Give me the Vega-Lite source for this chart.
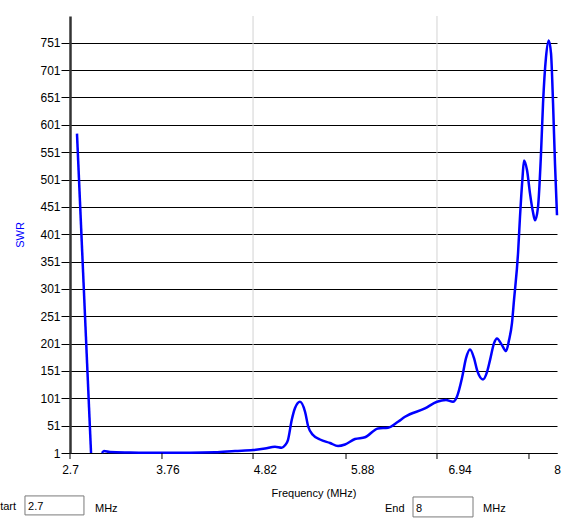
{
  "$schema": "https://vega.github.io/schema/vega-lite/v6.json",
  "width": 487,
  "height": 437,
  "autosize": {"type": "none"},
  "padding": {"left": 70, "top": 16, "right": 21, "bottom": 68},
  "background": "white",
  "config": {
    "view": {"stroke": null},
    "font": "Liberation Sans"
  },
  "datasets": {
    "swr": [
      {"f": 2.776, "swr": 585, "seg": 1},
      {"f": 2.929, "swr": 1, "seg": 1},
      {"f": 3.048, "swr": 1, "seg": 2},
      {"f": 3.07, "swr": 4.7, "seg": 2},
      {"f": 3.135, "swr": 2.8, "seg": 2},
      {"f": 3.353, "swr": 2, "seg": 2},
      {"f": 3.679, "swr": 1.4, "seg": 2},
      {"f": 4.006, "swr": 1.4, "seg": 2},
      {"f": 4.278, "swr": 2.3, "seg": 2},
      {"f": 4.496, "swr": 4.7, "seg": 2},
      {"f": 4.692, "swr": 6.5, "seg": 2},
      {"f": 4.822, "swr": 9.2, "seg": 2},
      {"f": 4.931, "swr": 12.5, "seg": 2},
      {"f": 5.004, "swr": 10.7, "seg": 2},
      {"f": 5.04, "swr": 15, "seg": 2},
      {"f": 5.072, "swr": 24.7, "seg": 2},
      {"f": 5.113, "swr": 61.3, "seg": 2},
      {"f": 5.149, "swr": 83.2, "seg": 2},
      {"f": 5.203, "swr": 94.7, "seg": 2},
      {"f": 5.258, "swr": 76.4, "seg": 2},
      {"f": 5.293, "swr": 49, "seg": 2},
      {"f": 5.345, "swr": 33.9, "seg": 2},
      {"f": 5.421, "swr": 25.7, "seg": 2},
      {"f": 5.53, "swr": 19.3, "seg": 2},
      {"f": 5.617, "swr": 13.8, "seg": 2},
      {"f": 5.693, "swr": 16.5, "seg": 2},
      {"f": 5.802, "swr": 26.6, "seg": 2},
      {"f": 5.91, "swr": 29.7, "seg": 2},
      {"f": 6.052, "swr": 46, "seg": 2},
      {"f": 6.161, "swr": 47.2, "seg": 2},
      {"f": 6.27, "swr": 58.2, "seg": 2},
      {"f": 6.346, "swr": 67.3, "seg": 2},
      {"f": 6.563, "swr": 82.6, "seg": 2},
      {"f": 6.694, "swr": 94.7, "seg": 2},
      {"f": 6.792, "swr": 97.8, "seg": 2},
      {"f": 6.868, "swr": 94.7, "seg": 2},
      {"f": 6.911, "swr": 103.8, "seg": 2},
      {"f": 6.966, "swr": 138, "seg": 2},
      {"f": 7.01, "swr": 174.5, "seg": 2},
      {"f": 7.053, "swr": 190.4, "seg": 2},
      {"f": 7.097, "swr": 174.5, "seg": 2},
      {"f": 7.13, "swr": 152.6, "seg": 2},
      {"f": 7.195, "swr": 135.6, "seg": 2},
      {"f": 7.238, "swr": 148.9, "seg": 2},
      {"f": 7.271, "swr": 170.8, "seg": 2},
      {"f": 7.315, "swr": 201.9, "seg": 2},
      {"f": 7.347, "swr": 210.5, "seg": 2},
      {"f": 7.401, "swr": 198.2, "seg": 2},
      {"f": 7.445, "swr": 187.3, "seg": 2},
      {"f": 7.478, "swr": 207.4, "seg": 2},
      {"f": 7.51, "swr": 238.4, "seg": 2},
      {"f": 7.532, "swr": 280.4, "seg": 2},
      {"f": 7.576, "swr": 366.2, "seg": 2},
      {"f": 7.597, "swr": 432, "seg": 2},
      {"f": 7.625, "swr": 505, "seg": 2},
      {"f": 7.641, "swr": 536, "seg": 2},
      {"f": 7.674, "swr": 517.8, "seg": 2},
      {"f": 7.706, "swr": 475.8, "seg": 2},
      {"f": 7.739, "swr": 441, "seg": 2},
      {"f": 7.761, "swr": 426.5, "seg": 2},
      {"f": 7.793, "swr": 450.2, "seg": 2},
      {"f": 7.826, "swr": 548.9, "seg": 2},
      {"f": 7.848, "swr": 640.2, "seg": 2},
      {"f": 7.88, "swr": 724.2, "seg": 2},
      {"f": 7.91, "swr": 755.2, "seg": 2},
      {"f": 7.935, "swr": 731.5, "seg": 2},
      {"f": 7.957, "swr": 640.2, "seg": 2},
      {"f": 7.978, "swr": 530.6, "seg": 2},
      {"f": 8.0, "swr": 435.6, "seg": 2}
    ],
    "vgrid": [{"g": 4.692}, {"g": 6.694}],
    "xticks": [{"t": 2.7}, {"t": 3.701}, {"t": 4.692}, {"t": 5.704}, {"t": 6.694}, {"t": 7.695}],
    "one": [{}]
  },
  "layer": [
    {
      "data": {"name": "vgrid"},
      "mark": {"type": "rule", "color": "#d3d3d3", "strokeWidth": 1},
      "encoding": {
        "x": {"field": "g", "type": "quantitative", "scale": {"domain": [2.7, 8]}}
      }
    },
    {
      "data": {"name": "swr"},
      "mark": {"type": "line", "color": "#0000ff", "strokeWidth": 2.5, "interpolate": "monotone", "clip": false},
      "encoding": {
        "x": {
          "field": "f", "type": "quantitative",
          "scale": {"domain": [2.7, 8], "nice": false, "zero": false},
          "axis": {
            "title": "Frequency (MHz)",
            "values": [2.7, 3.76, 4.82, 5.88, 6.94, 8],
            "tickCount": 20,
            "labelExpr": "datum.value == 8 ? '8' : format(datum.value, '.2~f')",
            "grid": false,
            "ticks": false,
            "tickSize": 0,
            "labelPadding": 11,
            "labelFontSize": 12,
            "labelColor": "#000000",
            "labelFont": "Liberation Sans",
            "labelOverlap": false,
            "labelFlush": false,
            "labelBound": false,
            "domainColor": "#000000",
            "domainWidth": 1,
            "titleFontSize": 11,
            "titleFontWeight": "normal",
            "titleFont": "Liberation Sans",
            "titleColor": "#000000",
            "titlePadding": 12
          }
        },
        "y": {
          "field": "swr", "type": "quantitative",
          "scale": {"domain": [1, 800], "nice": false, "zero": false},
          "axis": {
            "title": "SWR",
            "values": [1, 51, 101, 151, 201, 251, 301, 351, 401, 451, 501, 551, 601, 651, 701, 751],
            "tickCount": 40,
            "grid": true,
            "gridColor": "#000000",
            "gridWidth": 1,
            "gridOpacity": 1,
            "tickColor": "#000000",
            "tickSize": 9,
            "labelPadding": 1,
            "labelFontSize": 12,
            "labelColor": "#000000",
            "labelFont": "Liberation Sans",
            "labelOverlap": false,
            "labelBound": false,
            "labelFlush": false,
            "domainColor": "#333333",
            "domainWidth": 2.5,
            "titleFontSize": 11,
            "titleFontWeight": "normal",
            "titleFont": "Liberation Sans",
            "titleColor": "#0000ff",
            "titlePadding": 14
          }
        },
        "detail": {"field": "seg", "type": "nominal"}
      }
    },
    {
      "data": {"name": "xticks"},
      "mark": {"type": "rule", "color": "#000000", "strokeWidth": 1, "clip": false},
      "encoding": {
        "x": {"field": "t", "type": "quantitative", "scale": {"domain": [2.7, 8]}},
        "y": {"datum": 1, "type": "quantitative", "scale": {"domain": [1, 800]}},
        "y2": {"datum": -10}
      }
    },
    {
      "data": {"name": "one"},
      "mark": {"type": "text", "align": "left", "baseline": "alphabetic", "fontSize": 11, "font": "Liberation Sans", "color": "#000000", "clip": false},
      "encoding": {
        "x": {"datum": 1.94, "type": "quantitative", "scale": {"domain": [2.7, 8]}},
        "y": {"datum": -104, "type": "quantitative", "scale": {"domain": [1, 800]}},
        "text": {"value": "tart"}
      }
    },
    {
      "data": {"name": "one"},
      "mark": {"type": "rect", "fill": "#ffffff", "stroke": "#7a7a7a", "strokeWidth": 1, "clip": false},
      "encoding": {
        "x": {"datum": 2.21, "type": "quantitative", "scale": {"domain": [2.7, 8]}},
        "x2": {"datum": 2.852},
        "y": {"datum": -77.5, "type": "quantitative", "scale": {"domain": [1, 800]}},
        "y2": {"datum": -112.2}
      }
    },
    {
      "data": {"name": "one"},
      "mark": {"type": "text", "align": "left", "baseline": "alphabetic", "fontSize": 11, "font": "Liberation Sans", "color": "#000000", "clip": false},
      "encoding": {
        "x": {"datum": 2.243, "type": "quantitative", "scale": {"domain": [2.7, 8]}},
        "y": {"datum": -104, "type": "quantitative", "scale": {"domain": [1, 800]}},
        "text": {"value": "2.7"}
      }
    },
    {
      "data": {"name": "one"},
      "mark": {"type": "text", "align": "left", "baseline": "alphabetic", "fontSize": 11, "font": "Liberation Sans", "color": "#000000", "clip": false},
      "encoding": {
        "x": {"datum": 2.972, "type": "quantitative", "scale": {"domain": [2.7, 8]}},
        "y": {"datum": -106, "type": "quantitative", "scale": {"domain": [1, 800]}},
        "text": {"value": "MHz"}
      }
    },
    {
      "data": {"name": "one"},
      "mark": {"type": "text", "align": "left", "baseline": "alphabetic", "fontSize": 11, "font": "Liberation Sans", "color": "#000000", "clip": false},
      "encoding": {
        "x": {"datum": 6.128, "type": "quantitative", "scale": {"domain": [2.7, 8]}},
        "y": {"datum": -106, "type": "quantitative", "scale": {"domain": [1, 800]}},
        "text": {"value": "End"}
      }
    },
    {
      "data": {"name": "one"},
      "mark": {"type": "rect", "fill": "#ffffff", "stroke": "#7a7a7a", "strokeWidth": 1, "clip": false},
      "encoding": {
        "x": {"datum": 6.433, "type": "quantitative", "scale": {"domain": [2.7, 8]}},
        "x2": {"datum": 7.086},
        "y": {"datum": -79.4, "type": "quantitative", "scale": {"domain": [1, 800]}},
        "y2": {"datum": -115.9}
      }
    },
    {
      "data": {"name": "one"},
      "mark": {"type": "text", "align": "left", "baseline": "alphabetic", "fontSize": 11, "font": "Liberation Sans", "color": "#000000", "clip": false},
      "encoding": {
        "x": {"datum": 6.466, "type": "quantitative", "scale": {"domain": [2.7, 8]}},
        "y": {"datum": -106, "type": "quantitative", "scale": {"domain": [1, 800]}},
        "text": {"value": "8"}
      }
    },
    {
      "data": {"name": "one"},
      "mark": {"type": "text", "align": "left", "baseline": "alphabetic", "fontSize": 11, "font": "Liberation Sans", "color": "#000000", "clip": false},
      "encoding": {
        "x": {"datum": 7.195, "type": "quantitative", "scale": {"domain": [2.7, 8]}},
        "y": {"datum": -106, "type": "quantitative", "scale": {"domain": [1, 800]}},
        "text": {"value": "MHz"}
      }
    }
  ]
}
